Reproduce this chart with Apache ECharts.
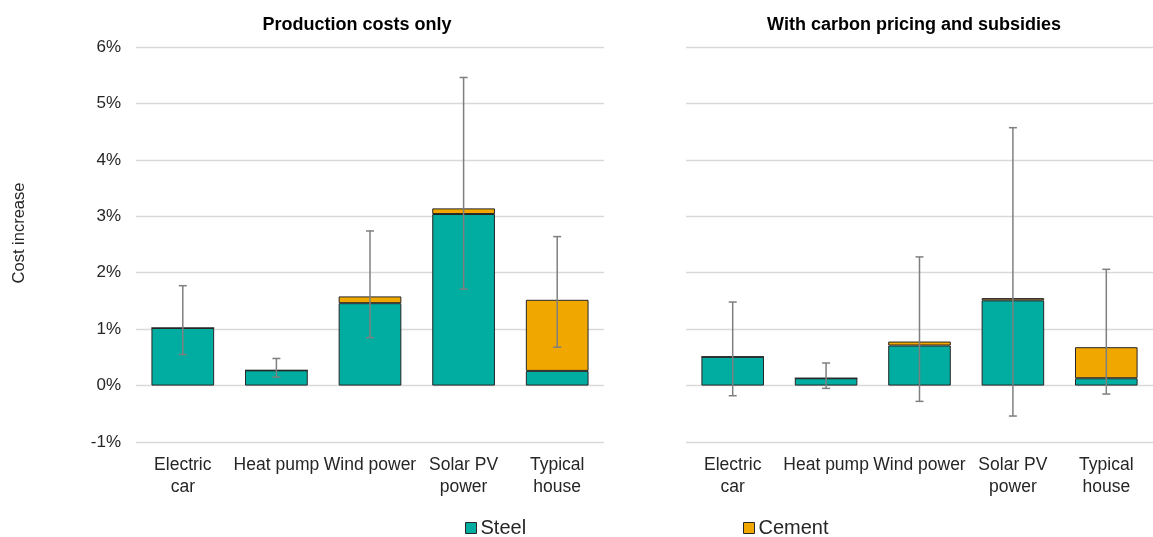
<!DOCTYPE html>
<html>
<head>
<meta charset="utf-8">
<script src="https://cdn.jsdelivr.net/npm/echarts@6/dist/echarts.min.js"></script>
<style>
  html, body { margin: 0; padding: 0; background: #fff; }
  #chart { width: 1153px; height: 537px; }
</style>
</head>
<body>
<div id="chart"></div>
<script>
// Categories shared by both panels
const categories = ['Electric\ncar', 'Heat pump', 'Wind power', 'Solar PV\npower', 'Typical\nhouse'];

// Panel 1: production costs only (% cost increase)
const steelProd = [1.02, 0.27, 1.46, 3.04, 0.26];
const cementProd = [0, 0, 0.12, 0.10, 1.26];
const lowProd = [0.55, 0.15, 0.85, 1.71, 0.68];
const highProd = [1.77, 0.48, 2.74, 5.46, 2.64];

// Panel 2: with carbon pricing and subsidies (% cost increase)
const steelCarbon = [0.51, 0.13, 0.71, 1.51, 0.13];
const cementCarbon = [0, 0, 0.07, 0.04, 0.55];
const lowCarbon = [-0.18, -0.05, -0.28, -0.54, -0.15];
const highCarbon = [1.48, 0.40, 2.28, 4.57, 2.06];

const yTicks = { min: -1, max: 6, interval: 1 };
const panelTitles = ['Production costs only', 'With carbon pricing and subsidies'];

const STEEL = '#00ADA0';
const CEMENT = '#F0A800';
const EDGE = '#262626';
const FONT = 'Liberation Sans, Arial, sans-serif';

const chart = echarts.init(document.getElementById('chart'), null, { renderer: 'canvas' });

function rangeData(low, high) {
  return low.map((l, i) => [i, l, high[i]]);
}

// Whisker drawn from low to high with short caps at both ends
function renderWhisker(params, api) {
  const x = api.value(0);
  const lo = api.coord([x, api.value(1)]);
  const hi = api.coord([x, api.value(2)]);
  const cap = 4;
  const style = { stroke: '#7F7F7F', lineWidth: 1.5 };
  return {
    type: 'group',
    children: [
      { type: 'line', shape: { x1: hi[0], y1: hi[1], x2: lo[0], y2: lo[1] }, style },
      { type: 'line', shape: { x1: hi[0] - cap, y1: hi[1], x2: hi[0] + cap, y2: hi[1] }, style },
      { type: 'line', shape: { x1: lo[0] - cap, y1: lo[1], x2: lo[0] + cap, y2: lo[1] }, style }
    ]
  };
}

function xAxisFor(idx) {
  return {
    type: 'category',
    gridIndex: idx,
    data: categories,
    axisLine: { show: false },
    axisTick: { show: false },
    axisLabel: {
      interval: 0, margin: 12, fontSize: 17.5, color: '#262626',
      fontFamily: FONT, lineHeight: 22
    }
  };
}

function yAxisFor(idx, showLabels) {
  return {
    type: 'value',
    gridIndex: idx,
    min: yTicks.min, max: yTicks.max, interval: yTicks.interval,
    axisLine: { show: false },
    axisTick: { show: false },
    splitLine: { lineStyle: { color: '#D9D9D9', width: 1.3 } },
    axisLabel: {
      show: showLabels, formatter: '{value}%', fontSize: 17,
      color: '#262626', fontFamily: FONT, margin: 15
    }
  };
}

function barSeries(name, data, idx, color) {
  return {
    name, type: 'bar', stack: 'panel' + idx,
    xAxisIndex: idx, yAxisIndex: idx,
    data, barWidth: '67%',
    itemStyle: { color, borderColor: EDGE, borderWidth: 1 },
    emphasis: { disabled: true }
  };
}

function whiskerSeries(low, high, idx) {
  return {
    type: 'custom', xAxisIndex: idx, yAxisIndex: idx,
    data: rangeData(low, high), renderItem: renderWhisker, z: 5, silent: true
  };
}

const legendBase = {
  orient: 'horizontal', top: 513, icon: 'rect',
  itemWidth: 11, itemHeight: 11, itemGap: 4,
  textStyle: { fontSize: 20, color: '#262626', fontFamily: FONT, padding: [0, 0, 0, -1] },
  itemStyle: { borderColor: EDGE, borderWidth: 1 },
  selectedMode: false
};

chart.setOption({
  animation: false,
  backgroundColor: '#ffffff',
  title: [
    { text: panelTitles[0], left: 352, top: 11, textAlign: 'center',
      textStyle: { fontSize: 18, fontWeight: 'bold', color: '#000', fontFamily: FONT } },
    { text: panelTitles[1], left: 909, top: 11, textAlign: 'center',
      textStyle: { fontSize: 18, fontWeight: 'bold', color: '#000', fontFamily: FONT } }
  ],
  grid: [
    { left: 136, width: 468, top: 47, bottom: 95 },
    { left: 686, right: 0, top: 47, bottom: 95 }
  ],
  xAxis: [xAxisFor(0), xAxisFor(1)],
  yAxis: [yAxisFor(0, true), yAxisFor(1, false)],
  legend: [
    Object.assign({}, legendBase, { left: 460, data: ['Steel'] }),
    Object.assign({}, legendBase, { left: 738, data: ['Cement'] })
  ],
  graphic: [{
    type: 'text', x: 19, y: 233, rotation: Math.PI / 2,
    style: {
      text: 'Cost increase', fontSize: 16.5, fill: '#262626', fontFamily: FONT,
      align: 'center', verticalAlign: 'middle'
    }
  }],
  series: [
    barSeries('Steel', steelProd, 0, STEEL),
    barSeries('Cement', cementProd, 0, CEMENT),
    whiskerSeries(lowProd, highProd, 0),
    barSeries('Steel', steelCarbon, 1, STEEL),
    barSeries('Cement', cementCarbon, 1, CEMENT),
    whiskerSeries(lowCarbon, highCarbon, 1)
  ]
});
</script>
</body>
</html>
